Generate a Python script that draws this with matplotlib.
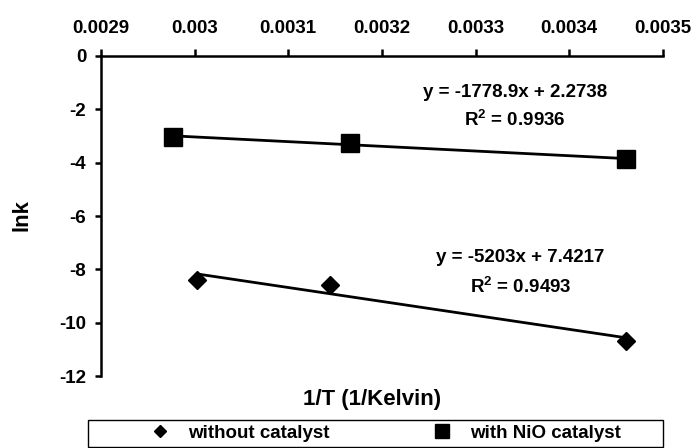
import numpy as np
import matplotlib.pyplot as plt
from matplotlib.lines import Line2D
from matplotlib.patches import Rectangle

plt.rcParams['font.family'] = ['Liberation Sans', 'DejaVu Sans']
plt.rcParams['font.weight'] = 'bold'
plt.rcParams['axes.unicode_minus'] = False
plt.rcParams['mathtext.fontset'] = 'custom'
plt.rcParams['mathtext.bf'] = 'Liberation Sans:bold'
plt.rcParams['mathtext.rm'] = 'Liberation Sans:bold'

# data (1/T, lnk)
x_without = [0.003003, 0.003145, 0.003461]
y_without = [-8.40, -8.59, -10.67]
x_nio = [0.002977, 0.003166, 0.003461]
y_nio = [-3.03, -3.27, -3.87]

eq_without = ['y = -5203x + 7.4217', 'R$^{\\mathbf{2}}$ = 0.9493']
eq_nio = ['y = -1778.9x + 2.2738', 'R$^{\\mathbf{2}}$ = 0.9936']

xticks = [0.0029, 0.003, 0.0031, 0.0032, 0.0033, 0.0034, 0.0035]
xtick_labels = ['0.0029', '0.003', '0.0031', '0.0032', '0.0033', '0.0034', '0.0035']
yticks = [0, -2, -4, -6, -8, -10, -12]

fs = 13.5

fig = plt.figure(figsize=(6.96, 4.48), dpi=100)
ax = fig.add_axes([0.145, 0.1607, 0.8075, 0.7143])

ax.plot(x_without, y_without, 'D', color='black', markersize=8.7, linestyle='none')
ax.plot(x_nio, y_nio, 's', color='black', markersize=12.5, linestyle='none')

# linear trendlines
for xs, ys in [(x_without, y_without), (x_nio, y_nio)]:
    m, b = np.polyfit(xs, ys, 1)
    xx = np.array([min(xs), max(xs)])
    ax.plot(xx, m * xx + b, color='black', linewidth=2.0, zorder=1)

ax.text(0.003342, -1.35, eq_nio[0], ha='center', va='center', fontsize=fs, fontweight='bold')
ax.text(0.003342, -2.40, eq_nio[1], ha='center', va='center', fontsize=fs, fontweight='bold')
ax.text(0.003348, -7.57, eq_without[0], ha='center', va='center', fontsize=fs, fontweight='bold')
ax.text(0.003348, -8.66, eq_without[1], ha='center', va='center', fontsize=fs, fontweight='bold')

ax.set_xlim(0.0029, 0.0035)
ax.set_ylim(-12, 0)
ax.set_xticks(xticks)
ax.set_xticklabels(xtick_labels)
ax.set_yticks(yticks)

ax.xaxis.tick_top()
ax.spines['bottom'].set_visible(False)
ax.spines['right'].set_visible(False)
ax.spines['top'].set_linewidth(1.8)
ax.spines['left'].set_linewidth(1.8)
ax.tick_params(axis='x', direction='out', length=5, width=1.8, pad=9, labelsize=fs)
ax.tick_params(axis='y', direction='out', length=4.5, width=1.8, pad=6, labelsize=fs)
for lab in ax.get_xticklabels() + ax.get_yticklabels():
    lab.set_fontweight('bold')

ax.set_ylabel('lnk', fontsize=16, fontweight='bold')
ax.yaxis.set_label_coords(-0.1406, 0.503)
ax.yaxis.label.set_va('center')
ax.set_xlabel('1/T (1/Kelvin)', fontsize=16, fontweight='bold')
ax.xaxis.set_label_position('bottom')
ax.xaxis.set_label_coords(0.482, -0.072)
ax.xaxis.label.set_va('center')

# legend box and entries
fig.patches.append(Rectangle((88 / 696, 1 / 448), 575 / 696, 27 / 448, transform=fig.transFigure,
                             fill=False, edgecolor='black', linewidth=1.0))
handles = [
    Line2D([], [], marker='D', color='black', linestyle='none', markersize=6.6),
    Line2D([], [], marker='s', color='black', linestyle='none', markersize=9.4),
]
fig.legend(handles, ['without catalyst', 'with NiO catalyst'], ncol=2,
           loc='center left', bbox_to_anchor=(150.6 / 696, 0.0324),
           frameon=False, prop={'size': fs, 'weight': 'bold'}, borderaxespad=0,
           borderpad=0, handlelength=1.0, handletextpad=1.0, columnspacing=5.5)

fig.savefig('out.png', dpi=100)
